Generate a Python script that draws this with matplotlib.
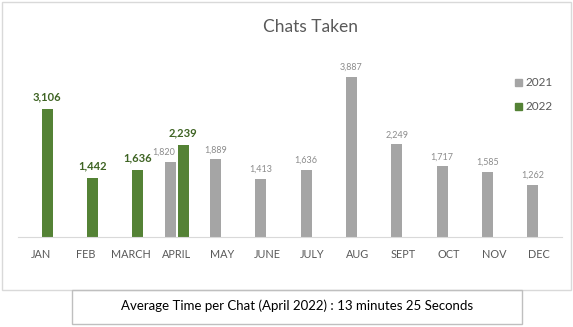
import matplotlib
matplotlib.use("Agg")
import matplotlib.pyplot as plt
from matplotlib.patches import Rectangle
import numpy as np

months = ["JAN", "FEB", "MARCH", "APRIL", "MAY", "JUNE", "JULY", "AUG", "SEPT", "OCT", "NOV", "DEC"]
vals_2021 = [None, None, None, 1820, 1889, 1413, 1636, 3887, 2249, 1717, 1585, 1262]
vals_2022 = [3106, 1442, 1636, 2239, None, None, None, None, None, None, None, None]
title = "Chats Taken"
footer = "Average Time per Chat (April 2022) : 13 minutes 25 Seconds"

W, H = 573, 327
plt.rcParams['font.family'] = ['Lato', 'DejaVu Sans']
fig = plt.figure(figsize=(W / 100, H / 100), dpi=100)

def fx(px):
    return px / W

def fy(py):
    return 1 - py / H

ax = fig.add_axes([fx(18), fy(237), fx(562) - fx(18), fy(40) - fy(237)])
gray = "#A5A5A5"
green = "#548235"
x = np.arange(len(months))
bw = 0.24
off = 0.145

for i in range(len(months)):
    v = vals_2021[i]
    w = vals_2022[i]
    if v is not None:
        ax.bar(x[i] - off, v, width=bw, color=gray)
        shift = -0.13 if w is not None else 0.0
        ax.text(x[i] - off + shift, v + 120, f"{v:,}", ha="center", va="bottom",
                fontsize=6.5, color="#8C8C8C")
    if w is not None:
        ax.bar(x[i] + off, w, width=bw, color=green)
        ax.text(x[i] + off, w + 150, f"{w:,}", ha="center", va="bottom",
                fontsize=8, color="#3F6424", fontweight="bold")

ax.set_xlim(-0.5, 11.5)
ax.set_ylim(0, 4780)
ax.set_xticks(x)
ax.set_xticklabels(months, fontsize=7.8, color="#595959")
ax.tick_params(axis="x", length=0, pad=9)
ax.set_yticks([])
for s in ["left", "right", "top"]:
    ax.spines[s].set_visible(False)
ax.spines["bottom"].set_color("#D9D9D9")
ax.patch.set_alpha(0)

fig.text(fx(310), fy(27), title, ha="center", va="center", fontsize=12.5, color="#595959")

# legend
for j, (lab, col) in enumerate([("2021", gray), ("2022", green)]):
    yy = 82 + j * 24
    fig.patches.append(Rectangle((fx(515), fy(yy + 3.5)), fx(7), fy(0) - fy(7), color=col,
                                 transform=fig.transFigure))
    fig.text(fx(525), fy(yy), lab, ha="left", va="center", fontsize=8.5, color="#595959")

# outer chart border
fig.patches.append(Rectangle((fx(1.5), fy(290)), fx(571) - fx(1.5), fy(2) - fy(290),
                             fill=False, edgecolor="#D9D9D9", lw=1, transform=fig.transFigure))
# footer box
fig.patches.append(Rectangle((fx(72), fy(324)), fx(522) - fx(72), fy(290) - fy(324),
                             fill=False, edgecolor="#BFBFBF", lw=1, transform=fig.transFigure))
fig.text(fx(297), fy(306), footer, ha="center", va="center", fontsize=9.5, color="black")

fig.savefig("out.png", dpi=100)
